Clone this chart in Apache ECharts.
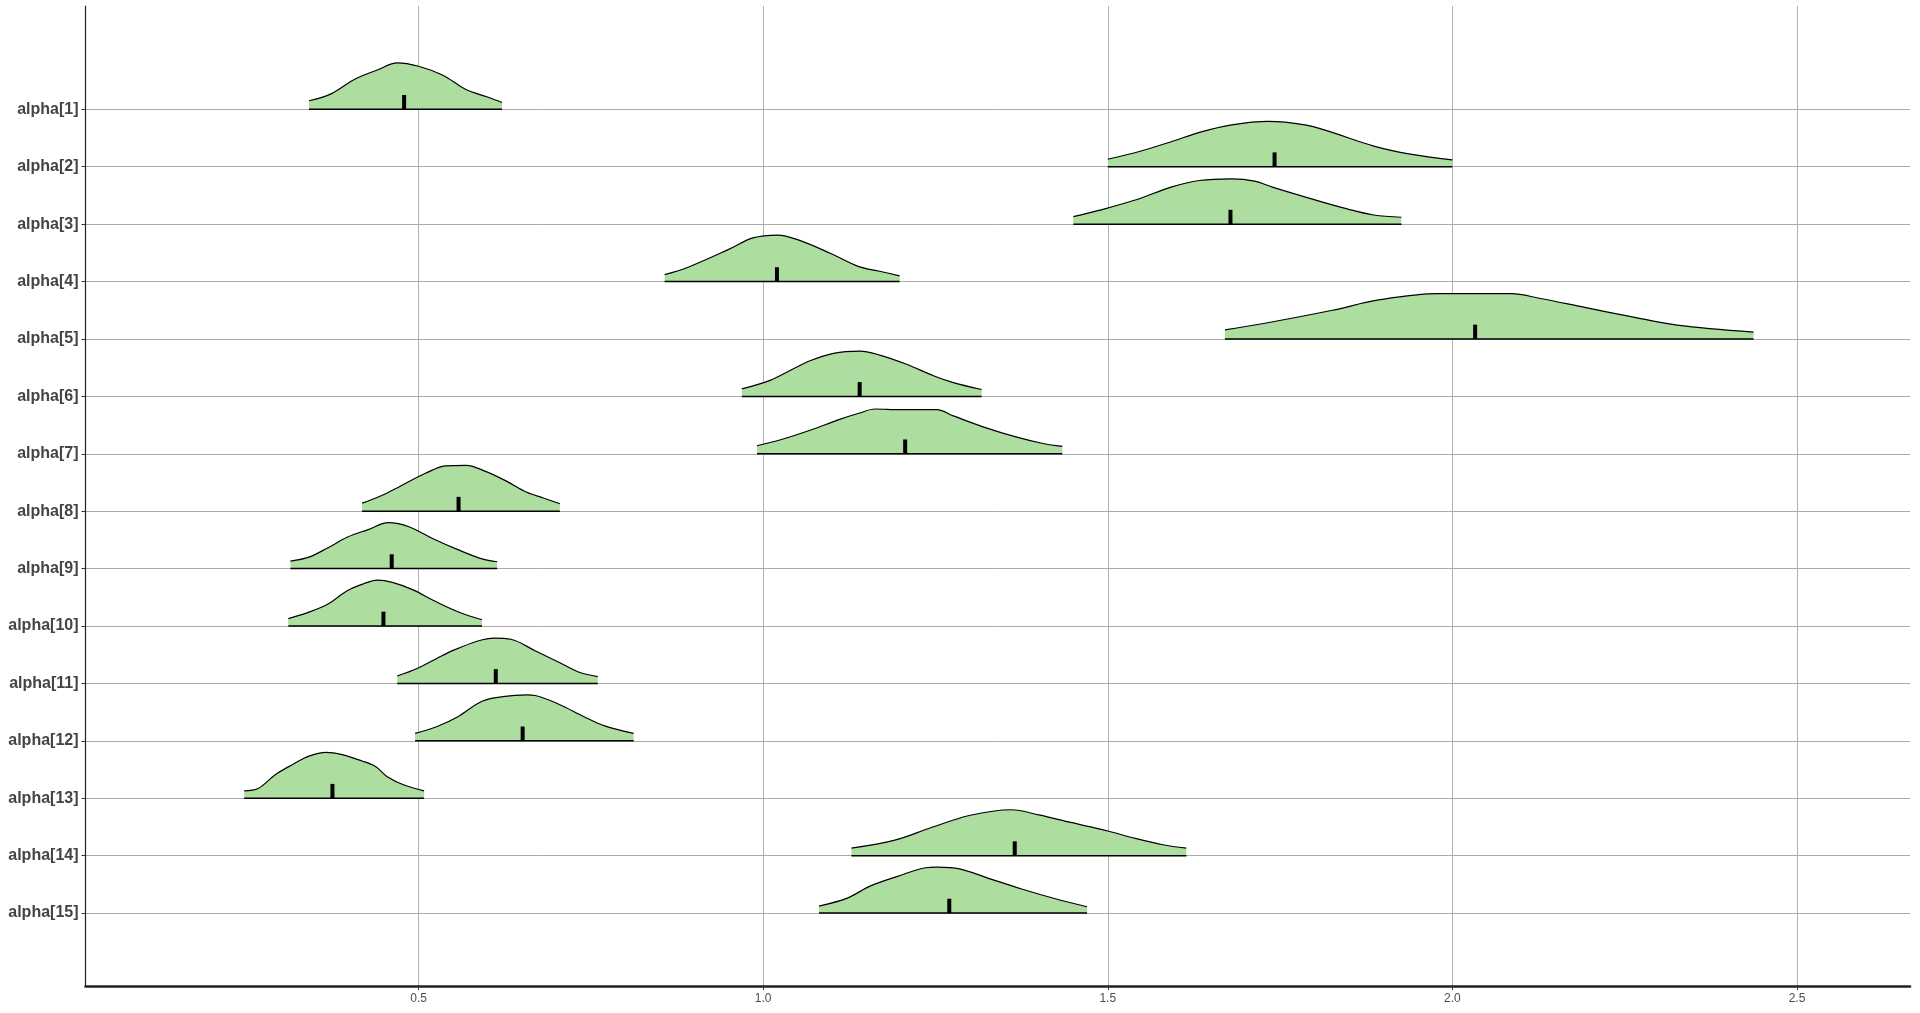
<!DOCTYPE html>
<html>
<head>
<meta charset="utf-8">
<title>alpha ridges</title>
<script src="https://cdn.jsdelivr.net/npm/echarts@6/dist/echarts.min.js"></script>
<style>
  html, body { margin: 0; padding: 0; background: #fff; }
  #main { width: 1920px; height: 1013px; }
</style>
</head>
<body>
<div id="main"></div>
<script>
// parameter names, top to bottom
var names = ['alpha[1]', 'alpha[2]', 'alpha[3]', 'alpha[4]', 'alpha[5]', 'alpha[6]', 'alpha[7]', 'alpha[8]',
  'alpha[9]', 'alpha[10]', 'alpha[11]', 'alpha[12]', 'alpha[13]', 'alpha[14]', 'alpha[15]'];

// density outline, x positions
var densX = [
  [0.341, 0.373, 0.408, 0.441, 0.469, 0.500, 0.536, 0.568, 0.601, 0.621],
  [1.500, 1.547, 1.593, 1.633, 1.680, 1.733, 1.786, 1.820, 1.886, 1.939, 2.000],
  [1.450, 1.487, 1.540, 1.593, 1.633, 1.680, 1.713, 1.740, 1.793, 1.846, 1.886, 1.926],
  [0.857, 0.891, 0.950, 0.985, 1.021, 1.050, 1.098, 1.139, 1.169, 1.198],
  [1.670, 1.726, 1.826, 1.893, 1.979, 2.086, 2.126, 2.192, 2.259, 2.326, 2.437],
  [0.969, 1.010, 1.039, 1.068, 1.102, 1.140, 1.169, 1.208, 1.247, 1.276, 1.317],
  [0.991, 1.024, 1.068, 1.111, 1.140, 1.162, 1.198, 1.252, 1.276, 1.319, 1.368, 1.406, 1.434],
  [0.418, 0.444, 0.474, 0.510, 0.539, 0.569, 0.598, 0.628, 0.657, 0.681, 0.705],
  [0.314, 0.341, 0.368, 0.397, 0.427, 0.456, 0.486, 0.521, 0.557, 0.592, 0.614],
  [0.311, 0.338, 0.368, 0.397, 0.421, 0.440, 0.462, 0.492, 0.521, 0.557, 0.592],
  [0.469, 0.498, 0.527, 0.551, 0.586, 0.610, 0.634, 0.669, 0.705, 0.734, 0.760],
  [0.495, 0.527, 0.557, 0.592, 0.622, 0.657, 0.669, 0.705, 0.740, 0.770, 0.812],
  [0.247, 0.267, 0.292, 0.316, 0.340, 0.366, 0.389, 0.418, 0.438, 0.454, 0.479, 0.508],
  [1.128, 1.191, 1.244, 1.299, 1.360, 1.400, 1.446, 1.500, 1.540, 1.580, 1.614],
  [1.081, 1.122, 1.155, 1.195, 1.236, 1.252, 1.285, 1.326, 1.375, 1.424, 1.470]
];

// density outline, heights above each baseline (in row units)
var densH = [
  [0.15, 0.27, 0.53, 0.69, 0.81, 0.75, 0.59, 0.35, 0.21, 0.12],
  [0.13, 0.27, 0.44, 0.60, 0.73, 0.79, 0.73, 0.62, 0.36, 0.22, 0.12],
  [0.13, 0.24, 0.42, 0.65, 0.76, 0.79, 0.75, 0.64, 0.45, 0.27, 0.16, 0.12],
  [0.12, 0.25, 0.56, 0.76, 0.81, 0.73, 0.49, 0.26, 0.18, 0.10],
  [0.16, 0.27, 0.50, 0.68, 0.79, 0.79, 0.71, 0.55, 0.39, 0.24, 0.12],
  [0.13, 0.28, 0.45, 0.62, 0.75, 0.79, 0.72, 0.56, 0.36, 0.24, 0.12],
  [0.14, 0.24, 0.41, 0.60, 0.71, 0.78, 0.77, 0.77, 0.66, 0.47, 0.29, 0.18, 0.13],
  [0.14, 0.26, 0.44, 0.66, 0.79, 0.80, 0.69, 0.52, 0.33, 0.23, 0.13],
  [0.13, 0.20, 0.36, 0.55, 0.68, 0.80, 0.73, 0.52, 0.33, 0.17, 0.12],
  [0.13, 0.23, 0.38, 0.62, 0.74, 0.80, 0.76, 0.63, 0.45, 0.25, 0.11],
  [0.13, 0.26, 0.44, 0.58, 0.74, 0.79, 0.77, 0.57, 0.36, 0.19, 0.12],
  [0.13, 0.25, 0.42, 0.69, 0.77, 0.80, 0.79, 0.63, 0.42, 0.26, 0.13],
  [0.13, 0.17, 0.41, 0.58, 0.73, 0.80, 0.76, 0.65, 0.55, 0.38, 0.23, 0.13],
  [0.13, 0.27, 0.49, 0.70, 0.80, 0.71, 0.58, 0.43, 0.30, 0.19, 0.13],
  [0.12, 0.26, 0.47, 0.64, 0.79, 0.80, 0.77, 0.61, 0.42, 0.25, 0.11]
];

// median of each posterior (black tick)
var medians = [0.479, 1.742, 1.678, 1.020, 2.033, 1.140, 1.206, 0.558, 0.461, 0.449, 0.612, 0.651, 0.375, 1.365, 1.270];

var xTicks = [0.5, 1.0, 1.5, 2.0, 2.5];
var yTicks = names.map(function (n, i) { return i + 1; });

var fillColor = '#ADDEA0';
var tickHeight = 0.25;

var chart = echarts.init(document.getElementById('main'));

var ridgeSeries = names.map(function (name, i) {
  var row = i + 1;
  return {
    name: name,
    type: 'line',
    smooth: 0.35,
    symbol: 'none',
    silent: true,
    z: 3,
    lineStyle: { color: '#000', width: 1.2 },
    areaStyle: { color: fillColor, opacity: 1, origin: row },
    data: densX[i].map(function (x, j) { return [x, row - densH[i][j]]; })
  };
});

// baselines + median ticks
var medianSeries = {
  type: 'custom',
  silent: true,
  z: 4,
  data: names.map(function (name, i) {
    var xs = densX[i];
    return [medians[i], i + 1, xs[0], xs[xs.length - 1]];
  }),
  renderItem: function (params, api) {
    var row = api.value(1);
    var m = api.coord([api.value(0), row]);
    var top = api.coord([api.value(0), row - tickHeight]);
    var a = api.coord([api.value(2), row]);
    var b = api.coord([api.value(3), row]);
    return {
      type: 'group',
      children: [
        {
          type: 'line',
          shape: { x1: a[0], y1: a[1], x2: b[0], y2: b[1] },
          style: { stroke: '#000', lineWidth: 1.5 }
        },
        {
          type: 'rect',
          shape: { x: m[0] - 2, y: top[1], width: 4, height: m[1] - top[1] },
          style: { fill: '#000' }
        }
      ]
    };
  }
};

var option = {
  animation: false,
  backgroundColor: '#fff',
  grid: { left: 85.5, right: 10, top: 6, bottom: 27, containLabel: false },
  xAxis: {
    type: 'value',
    min: 0.0167,
    max: 2.664,
    axisLine: { show: true, onZero: false, lineStyle: { color: '#222', width: 2.5 } },
    axisTick: { show: true, customValues: xTicks, length: 4, lineStyle: { color: '#333' } },
    axisLabel: {
      customValues: xTicks,
      formatter: function (v) { return v.toFixed(1); },
      color: '#4D4D4D',
      fontSize: 12,
      fontFamily: 'Liberation Sans, Arial, sans-serif',
      margin: 7
    },
    splitLine: { show: true, lineStyle: { color: '#B3B3B3', width: 1 } }
  },
  yAxis: {
    type: 'value',
    inverse: true,
    min: -0.80,
    max: 16.27,
    axisLine: { show: true, onZero: false, lineStyle: { color: '#222', width: 1.2 } },
    axisTick: { show: true, customValues: yTicks, length: 4, lineStyle: { color: '#333' } },
    axisLabel: {
      customValues: yTicks,
      formatter: function (v) { return names[Math.round(v) - 1] || ''; },
      color: '#444',
      fontSize: 16,
      fontWeight: 'bold',
      fontFamily: 'Liberation Sans, Arial, sans-serif',
      margin: 7,
      padding: [2, 0, 0, 0]
    },
    splitLine: { show: true, lineStyle: { color: '#ABABAB', width: 1 } }
  },
  series: ridgeSeries.concat([medianSeries])
};

chart.setOption(option);
</script>
</body>
</html>
